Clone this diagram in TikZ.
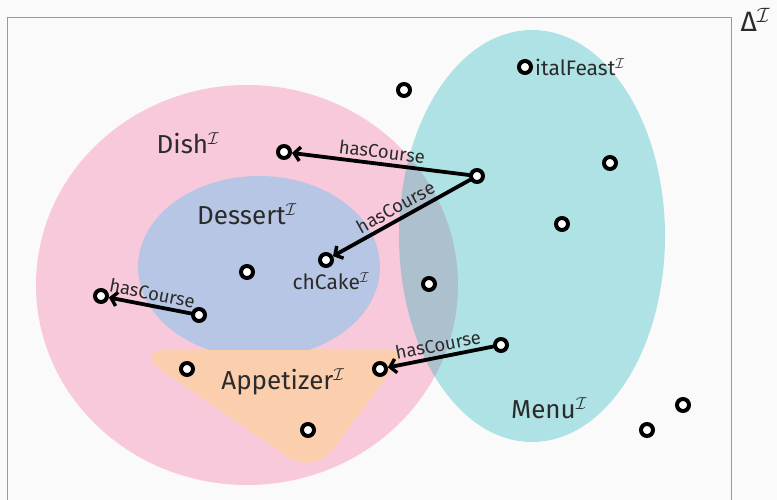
\documentclass[tikz,border=0pt]{standalone}
\usepackage{fontspec}
\setmainfont{Fira Sans}
\usetikzlibrary{arrows.meta}
\usetikzlibrary{positioning}

\definecolor{bgcol}{HTML}{FAFAFA}
\definecolor{dishcol}{HTML}{F7C9DA}
\definecolor{dessertcol}{HTML}{B7C6E4}
\definecolor{appcol}{HTML}{FBCFAE}
\definecolor{menucol}{RGB}{11,173,179}
\definecolor{txtcol}{HTML}{2B2B2B}

\begin{document}
\begin{tikzpicture}[x=1pt, y=-1pt,
  elem/.style={circle, draw=black, fill=white, line width=4pt,
    minimum size=12pt, inner sep=0pt},
  role/.style={line width=3.8pt, line cap=round,
    -{Straight Barb[length=6pt, width=14pt, line width=3.4pt]}},
  rolelabel/.style={midway, sloped, above, inner sep=3.5pt, text=txtcol,
    font=\fontsize{18.5}{20}\selectfont},
  classlabel/.style={text=txtcol, font=\fontsize{26}{30}\selectfont},
  elemlabel/.style={text=txtcol, inner sep=1pt, font=\fontsize{21}{24}\selectfont}]

\useasboundingbox (0,0) rectangle (777,500);
\fill[bgcol] (0,0) rectangle (777,500);

% domain
\draw[gray!80, line width=1pt] (7,500) -- (7,18) -- (731,18) -- (731,500);
\node[classlabel, anchor=west, font=\fontsize{28}{30}\selectfont] (delta) at (737,20) {Δ$^{\mathcal{I}}$};

% concept extensions
\fill[dishcol] (247,285) ellipse [x radius=211, y radius=200];
\fill[dessertcol] (259,267) ellipse [x radius=121, y radius=91];
\fill[appcol] (230,350) [rounded corners=18pt] -- (407,350)
  [rounded corners=32pt] -- (314,475)
  [rounded corners=36pt] -- (132,350) -- cycle;
\fill[menucol, opacity=0.31] (532,236) ellipse [x radius=133, y radius=206];

\node[classlabel] (dish) at (188,143) {Dish$^{\mathcal{I}}$};
\node[classlabel] (dessert) at (247,214) {Dessert$^{\mathcal{I}}$};
\node[classlabel] (appetizer) at (283,382) {Appetizer$^{\mathcal{I}}$};
\node[classlabel] (menu) at (549,408) {Menu$^{\mathcal{I}}$};

% individuals
\foreach \n/\x/\y in {e1/404/90, feast/525/67, e2/610/163, e3/562/224,
    menuA/477/176, dishA/284/152, cake/326/260, e4/247/272, e5/429/284,
    e6/101/296, e7/199/315, e8/187/369, app/380/369, e9/308/430,
    menuB/501/345, e10/683/405, e11/647/430}
  \node[elem] (\n) at (\x,\y) {};

\node[elemlabel, right=1pt of feast] (feastlabel) {italFeast$^{\mathcal{I}}$};
\node[elemlabel, below=3pt of cake, xshift=5pt] (cakelabel) {chCake$^{\mathcal{I}}$};

% role assertions
\draw[role] (menuA) -- node[rolelabel] {hasCourse} (dishA);
\draw[role] (menuA) -- node[rolelabel] {hasCourse} (cake);
\draw[role] (e7) -- node[rolelabel] {hasCourse} (e6);
\draw[role] (menuB) -- node[rolelabel] {hasCourse} (app);

\end{tikzpicture}
\end{document}
